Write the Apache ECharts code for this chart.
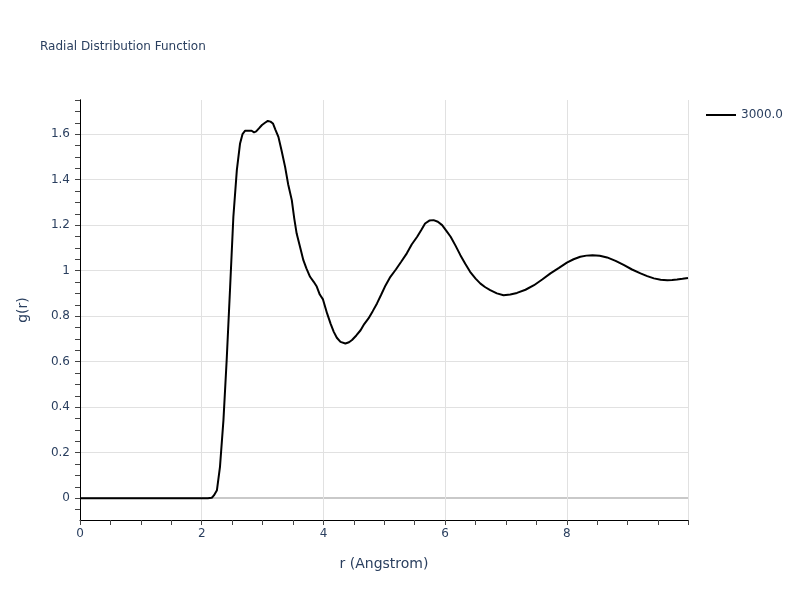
<!DOCTYPE html>
<html>
<head>
<meta charset="utf-8">
<script src="https://cdn.jsdelivr.net/npm/echarts@6/dist/echarts.min.js"></script>
<style>html,body{margin:0;padding:0;background:#fff}#c{width:800px;height:600px}</style>
</head>
<body>
<div id="c"></div>
<script>
// ---- data ----
const seriesName = "3000.0";
const rValues = [0, 2.1, 2.166, 2.2, 2.25, 2.30, 2.357, 2.41, 2.467, 2.52, 2.577, 2.63, 2.67, 2.714, 2.82, 2.86, 2.895, 2.94, 2.99, 3.04, 3.086, 3.13, 3.17, 3.21, 3.26, 3.31, 3.37, 3.42, 3.48, 3.52, 3.56, 3.62, 3.67, 3.72, 3.78, 3.84, 3.89, 3.94, 3.99, 4.06, 4.12, 4.17, 4.22, 4.28, 4.36, 4.42, 4.47, 4.54, 4.61, 4.67, 4.74, 4.81, 4.88, 4.95, 5.02, 5.10, 5.19, 5.28, 5.37, 5.45, 5.54, 5.61, 5.67, 5.74, 5.81, 5.88, 5.95, 6.02, 6.09, 6.17, 6.25, 6.33, 6.41, 6.50, 6.58, 6.66, 6.74, 6.85, 6.96, 7.07, 7.18, 7.32, 7.46, 7.60, 7.73, 7.87, 8.00, 8.11, 8.22, 8.32, 8.42, 8.54, 8.66, 8.80, 8.94, 9.07, 9.21, 9.32, 9.43, 9.54, 9.65, 9.73, 9.81, 9.90, 9.99];
const gValues = [0, 0, 0.002, 0.012, 0.035, 0.138, 0.343, 0.607, 0.929, 1.237, 1.442, 1.559, 1.600, 1.615, 1.615, 1.608, 1.612, 1.625, 1.640, 1.650, 1.658, 1.655, 1.647, 1.620, 1.588, 1.530, 1.456, 1.380, 1.310, 1.230, 1.163, 1.100, 1.046, 1.010, 0.973, 0.951, 0.930, 0.895, 0.875, 0.812, 0.765, 0.731, 0.705, 0.687, 0.680, 0.685, 0.695, 0.715, 0.738, 0.765, 0.790, 0.822, 0.856, 0.895, 0.935, 0.973, 1.005, 1.040, 1.076, 1.115, 1.149, 1.180, 1.207, 1.220, 1.222, 1.215, 1.200, 1.175, 1.149, 1.110, 1.068, 1.030, 0.995, 0.965, 0.943, 0.927, 0.914, 0.900, 0.892, 0.895, 0.902, 0.916, 0.936, 0.962, 0.988, 1.012, 1.035, 1.050, 1.061, 1.066, 1.068, 1.065, 1.058, 1.043, 1.024, 1.005, 0.988, 0.976, 0.966, 0.960, 0.958, 0.959, 0.961, 0.964, 0.968];
const yTickValues = [0, 0.2, 0.4, 0.6, 0.8, 1, 1.2, 1.4, 1.6];
const xTickInterval = 2;

// ---- chart ----
const txt = '#2a3f5f';
const font = '"DejaVu Sans", Verdana, sans-serif';
const yMin = -0.096, yMax = 1.75;
const yMinor = [];
for (let i = -1; i <= 35; i++) yMinor.push(+(i * 0.05).toFixed(2));

const chart = echarts.init(document.getElementById('c'), null, {renderer: 'canvas'});
chart.setOption({
  animation: false,
  backgroundColor: '#fff',
  textStyle: {fontFamily: font},
  title: {
    text: 'Radial Distribution Function',
    left: 35, top: 36,
    textStyle: {fontSize: 12, fontWeight: 'normal', color: txt, fontFamily: font}
  },
  legend: {
    data: [{name: seriesName, icon: 'path://M0,0L30,0L30,2L0,2Z'}],
    left: 701, top: 104,
    itemWidth: 30, itemHeight: 2, itemGap: 5,
    textStyle: {fontSize: 12, color: txt, fontFamily: font}
  },
  grid: {left: 80, right: 112, top: 100, bottom: 80, containLabel: false},
  xAxis: {
    type: 'value', min: 0, max: 9.99, interval: xTickInterval,
    name: 'r (Angstrom)', nameLocation: 'middle', nameGap: 37,
    nameTextStyle: {fontSize: 14, color: txt, fontFamily: font},
    axisLine: {show: true, onZero: false, lineStyle: {color: '#000', width: 1}},
    axisTick: {show: true, length: 5, lineStyle: {color: '#444'}},
    minorTick: {show: true, splitNumber: 4, length: 5, lineStyle: {color: '#444'}},
    axisLabel: {fontSize: 12, color: txt, margin: 8, fontFamily: font, showMaxLabel: false},
    splitLine: {show: true, lineStyle: {color: '#e1e1e1', width: 1}}
  },
  yAxis: [{
    type: 'value', min: yMin, max: yMax,
    name: 'g(r)', nameLocation: 'middle', nameGap: 50, nameRotate: 90,
    nameTextStyle: {fontSize: 14, color: txt, fontFamily: font},
    axisLine: {show: true, onZero: false, lineStyle: {color: '#000', width: 1}},
    axisTick: {show: false, customValues: yTickValues},
    axisLabel: {fontSize: 12, color: txt, margin: 10, fontFamily: font, customValues: yTickValues},
    splitLine: {show: true, lineStyle: {color: '#e1e1e1', width: 1}}
  }, {
    type: 'value', min: yMin, max: yMax, position: 'left',
    axisLine: {show: true, onZero: false, lineStyle: {color: '#000', width: 1}},
    axisTick: {show: true, length: 5, customValues: yMinor, lineStyle: {color: '#444'}},
    axisLabel: {show: false},
    splitLine: {show: false}
  }, {
    type: 'value', min: yMin, max: yMax, position: 'left',
    axisLine: {show: false},
    axisTick: {show: false, customValues: [0]},
    axisLabel: {show: false},
    splitLine: {show: true, lineStyle: {color: '#c9c9c9', width: 2}}
  }],
  series: [{
    name: seriesName, type: 'line', yAxisIndex: 0, z: 3,
    data: rValues.map((r, i) => [r, gValues[i]]),
    showSymbol: false, symbol: 'none', smooth: false,
    lineStyle: {color: '#000', width: 2},
    itemStyle: {color: '#000'}
  }]
});
</script>
</body>
</html>
